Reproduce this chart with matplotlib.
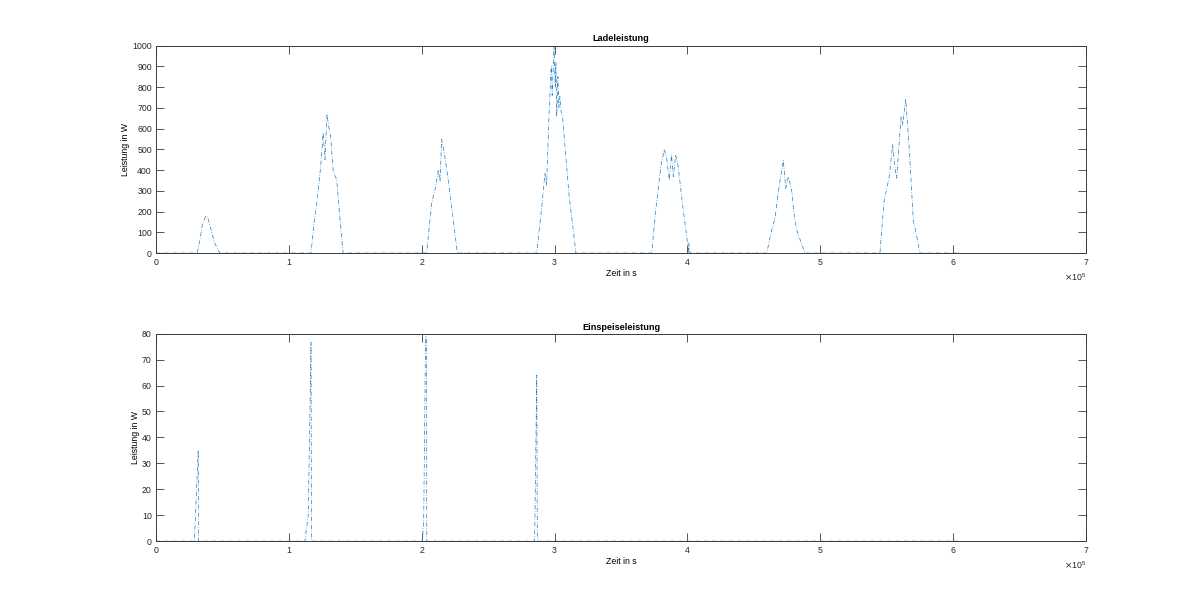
import matplotlib
matplotlib.use('Agg')
import matplotlib.pyplot as plt
from matplotlib.ticker import ScalarFormatter, MultipleLocator

# Ladeleistung (time in s, power in W)
t_lade = [0, 31000, 33000, 35000, 37600, 39000, 41900, 44000, 48000,
          116700, 119000, 121000, 124000, 125800, 127200, 128700, 130000, 131500,
          133300, 136100, 138000, 140800,
          203700, 207500, 210500, 212500, 213800, 215000, 217000, 220000, 224000, 226800,
          286500, 290000, 292800, 294000, 296000, 297500, 298200, 299600, 300500, 301000,
          301600, 302500, 303200, 304000, 305000, 306000, 308000, 311000, 316100,
          373100, 376000, 380000, 382600, 384500, 386400, 388000, 389400, 391100, 393000,
          396000, 399500, 400700, 401000, 402000,
          459700, 463000, 465900, 468500, 472200, 474000, 475900, 478500, 480000, 482200, 488500,
          544900, 548000, 551900, 554500, 556000, 557500, 559000, 560800, 562000, 564300,
          567000, 570000, 572000, 575000, 604800]
p_lade = [0, 0, 60, 140, 180, 170, 103, 50, 0,
          0, 150, 240, 420, 580, 450, 670, 610, 560,
          400, 350, 200, 0,
          0, 240, 320, 401, 344, 549, 483, 350, 150, 0,
          0, 200, 385, 328, 700, 900, 760, 997, 800, 920,
          658, 850, 700, 755, 680, 658, 500, 272, 0,
          0, 200, 420, 500, 450, 352, 473, 368, 473, 420,
          250, 80, 0, 48, 0,
          0, 100, 168, 300, 446, 312, 368, 300, 200, 111, 0,
          0, 250, 368, 522, 420, 361, 500, 658, 620, 742,
          500, 159, 100, 0, 0]

# Einspeiseleistung
t_einsp = [0, 28900, 31800, 32000, 112100, 114600, 116700, 117000,
           200500, 201500, 203000, 203600, 203800, 285000, 286600, 287000, 604800]
p_einsp = [0, 0, 35, 0, 0, 10, 76.7, 0,
           0, 8, 85, 85, 0, 0, 64, 0, 0]

plt.rcParams['font.family'] = ['Liberation Sans', 'DejaVu Sans']
plt.rcParams['font.size'] = 6.3
line_col = '#1f7bbd'
ax_col = '#3a3a3a'

fig = plt.figure(figsize=(12, 6.08), dpi=100)
ax1 = fig.add_axes([0.13, 0.5838, 0.775, 0.3412])
ax2 = fig.add_axes([0.13, 0.11, 0.775, 0.3412])

panels = [(ax1, t_lade, p_lade, 'Ladeleistung', 1000, 100),
          (ax2, t_einsp, p_einsp, 'Einspeiseleistung', 80, 10)]

for ax, t, p, title, ymax, ystep in panels:
    ax.plot(t, p, color=line_col, linestyle=(0, (6, 2.5, 1, 2.5)), linewidth=0.5)
    ax.set_xlim(0, 7e5)
    ax.set_ylim(0, ymax)
    ax.yaxis.set_major_locator(MultipleLocator(ystep))
    ax.xaxis.set_major_locator(MultipleLocator(1e5))
    ax.set_title(title, fontweight='bold', fontsize=6.6, pad=3)
    ax.set_xlabel('Zeit in s', labelpad=1)
    ax.set_ylabel('Leistung in W', labelpad=1.5)
    fmt = ScalarFormatter(useMathText=True)
    fmt.set_powerlimits((0, 0))
    ax.xaxis.set_major_formatter(fmt)
    ax.tick_params(direction='in', length=5.8, width=0.6, color=ax_col,
                   top=True, right=True, labelcolor='#262626', pad=3)
    for s in ax.spines.values():
        s.set_color(ax_col)
        s.set_linewidth(0.7)
    ax.xaxis.get_offset_text().set_fontsize(6.3)

fig.savefig('out.png', dpi=100)
